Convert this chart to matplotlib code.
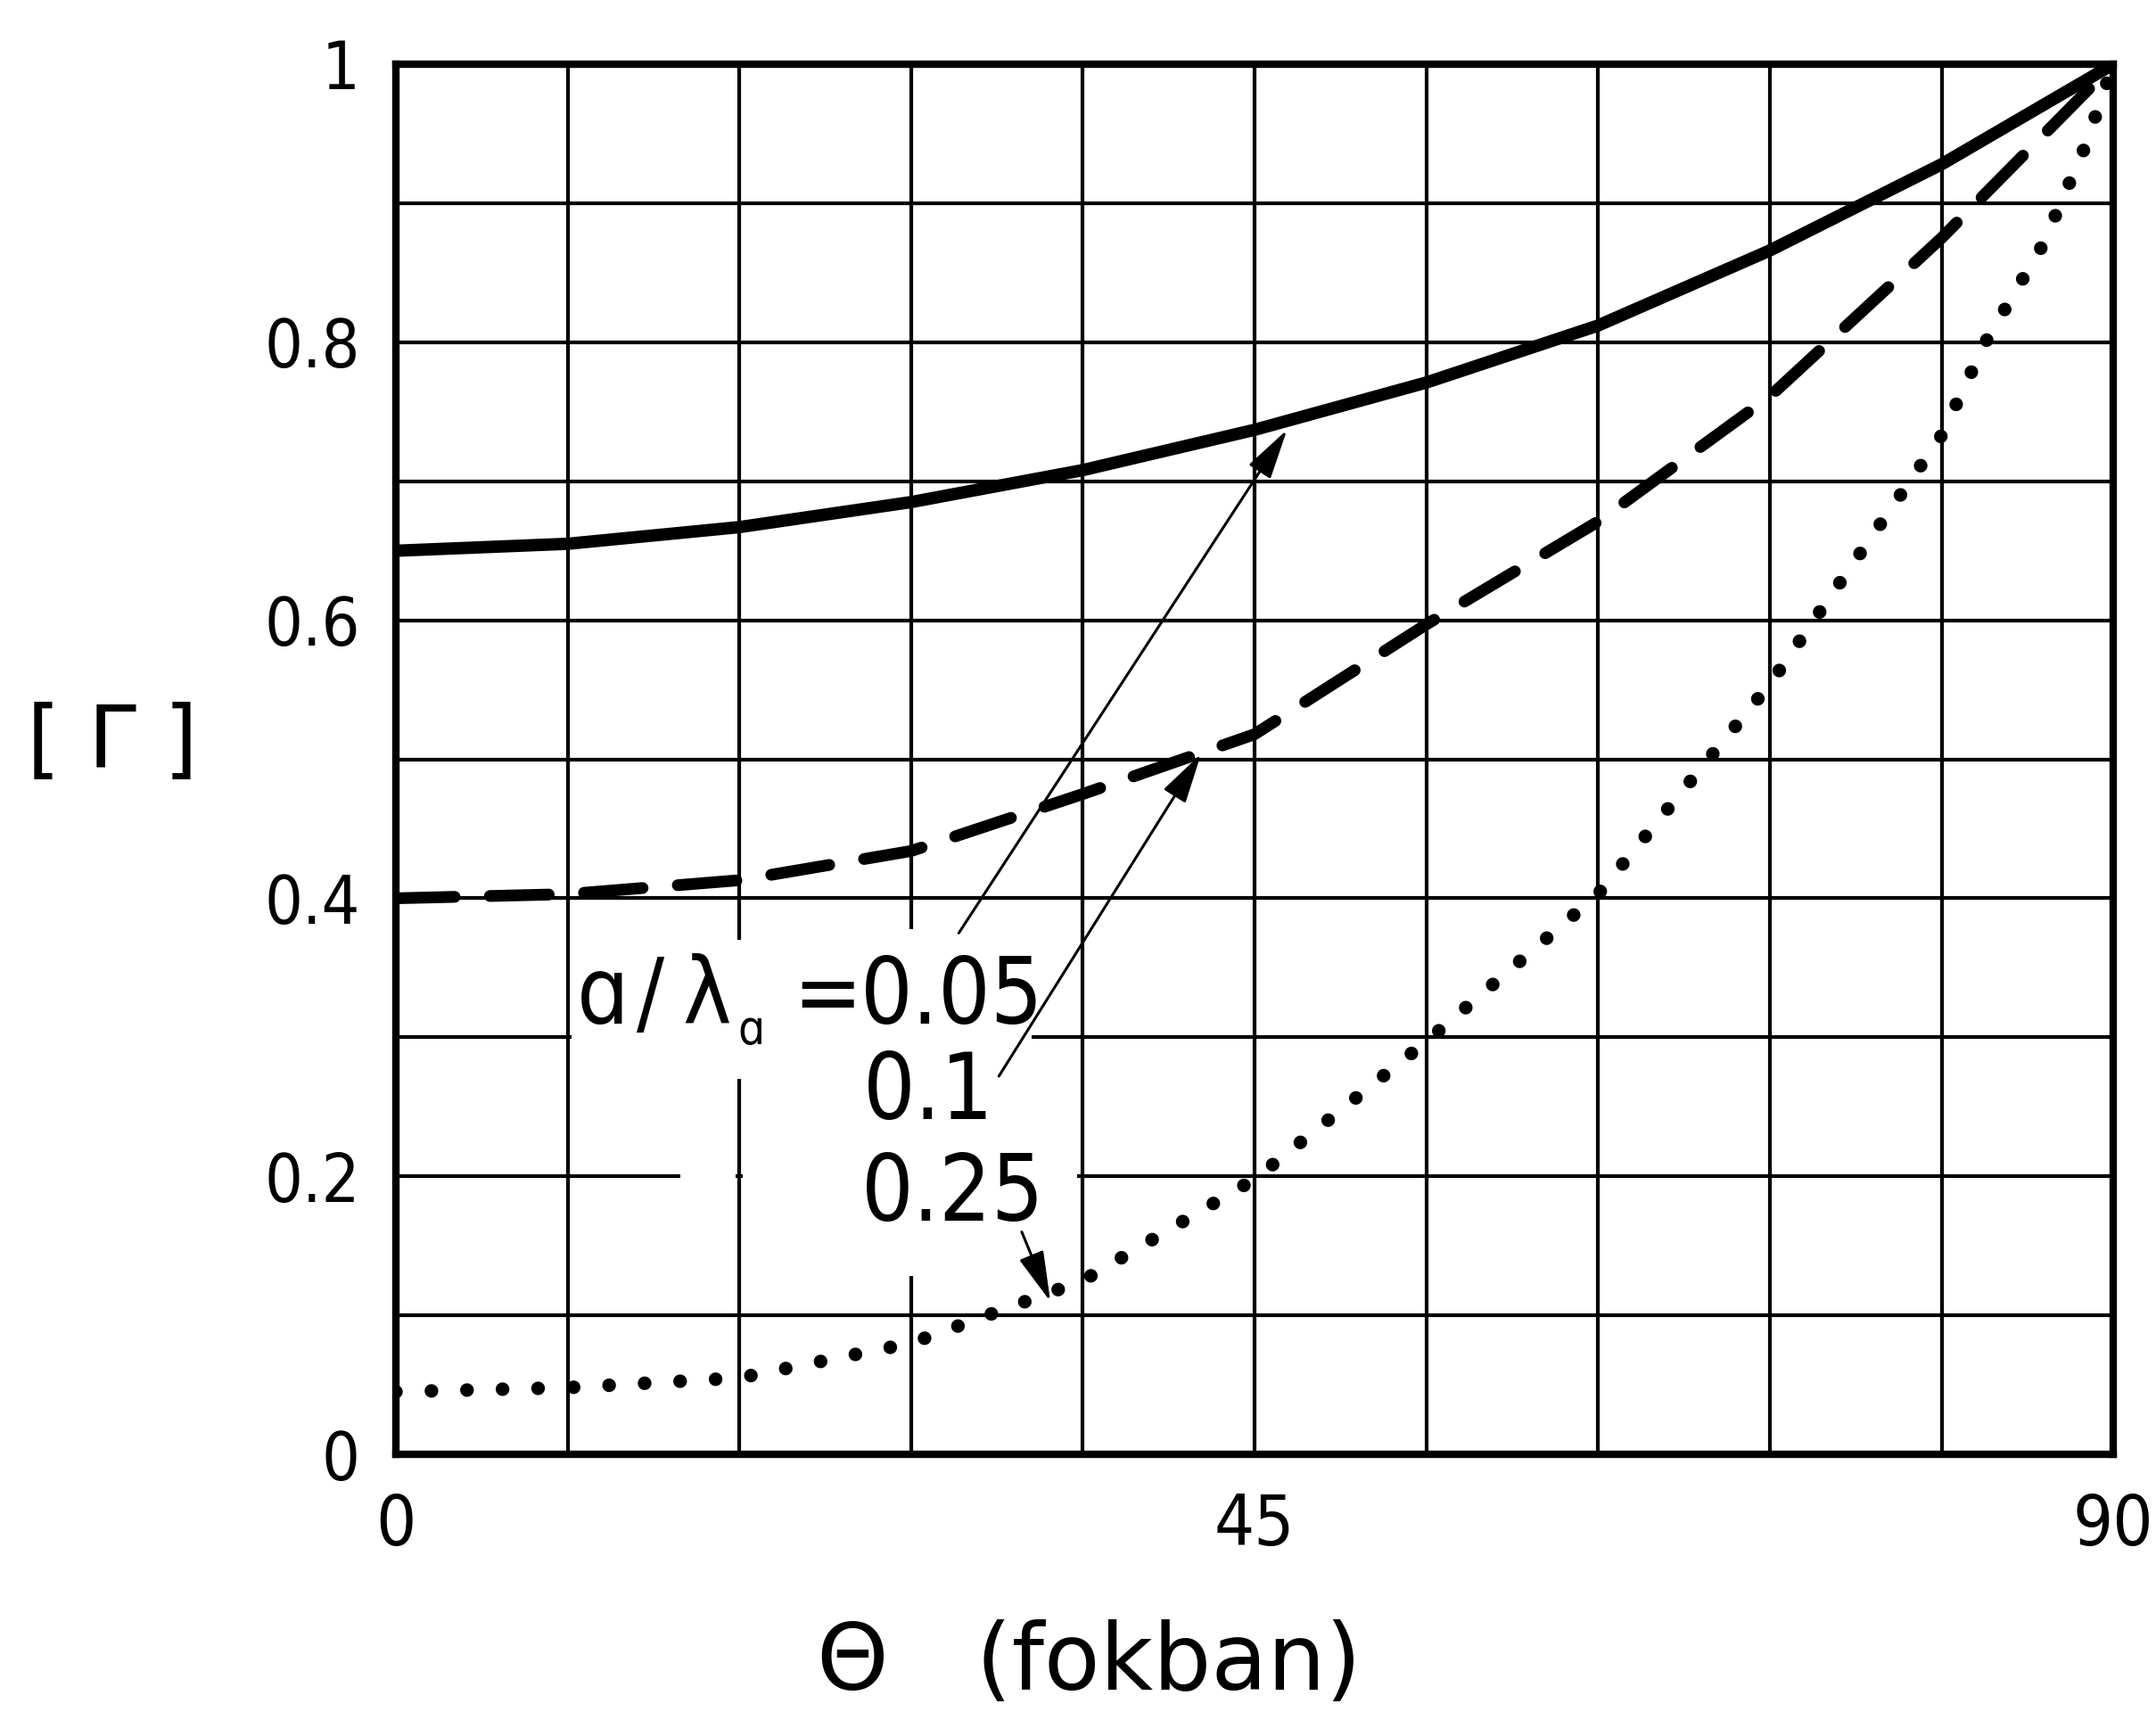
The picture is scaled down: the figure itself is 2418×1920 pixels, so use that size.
import matplotlib
matplotlib.use('Agg')
import matplotlib.pyplot as plt
from matplotlib.patches import Rectangle

# values (theta in degrees, |Gamma|)
theta = [0, 9, 18, 27, 36, 45, 54, 63, 72, 81, 90]
g_005 = [0.650, 0.655, 0.667, 0.685, 0.708, 0.737, 0.771, 0.812, 0.866, 0.928, 1.0]
g_01 = [0.400, 0.403, 0.413, 0.434, 0.475, 0.518, 0.597, 0.671, 0.761, 0.875, 1.0]
theta_025 = [0, 9, 18, 27, 36, 45, 54, 63, 72, 81, 83.3, 86.3, 88.5, 90]
g_025 = [0.045, 0.048, 0.055, 0.080, 0.125, 0.198, 0.297, 0.403, 0.554, 0.733, 0.80, 0.87, 0.94, 1.0]

x_ticks = [0, 9, 18, 27, 36, 45, 54, 63, 72, 81, 90]
x_labels = ['0', '', '', '', '', '45', '', '', '', '', '90']
y_ticks = [0, 0.1, 0.2, 0.3, 0.4, 0.5, 0.6, 0.7, 0.8, 0.9, 1.0]
y_labels = ['0', '', '0.2', '', '0.4', '', '0.6', '', '0.8', '', '1']

plt.rcParams['font.family'] = ['DejaVu Sans']
plt.rcParams['font.stretch'] = 'condensed'

fig = plt.figure(figsize=(24.18, 19.2), dpi=100)
ax = fig.add_axes([0.1836, 0.1505, 0.7966, 0.812])

ax.plot(theta, g_005, color='black', lw=10, solid_capstyle='round', zorder=4)
ax.plot(theta, g_01, color='black', lw=9.5, dashes=(5, 3), dash_capstyle='round', zorder=4)
ax.plot(theta_025, g_025, color='black', lw=11, dashes=(0.01, 2.6), dash_capstyle='round', zorder=4)

ax.set_xlim(0, 90)
ax.set_ylim(0, 1)
ax.set_xticks(x_ticks)
ax.set_xticklabels(x_labels, fontsize=57)
ax.set_yticks(y_ticks)
ax.set_yticklabels(y_labels, fontsize=54)
ax.tick_params(axis='x', length=0, pad=30)
ax.tick_params(axis='y', length=0, pad=29)
ax.set_axisbelow(True)
ax.grid(True, color='black', lw=3)
for s in ax.spines.values():
    s.set_linewidth(6)

# the label block was pasted over the grid: white masks where the grid is broken
masks = [(9.2, 0.27, 24.1, 0.10),     # 0.3 line and upper parts of 18/27 deg lines
         (14.9, 0.19, 2.9, 0.02),     # 0.2 line, left of 18 deg
         (18.2, 0.19, 17.5, 0.02),    # 0.2 line, 18..36 deg
         (26.5, 0.128, 1.0, 0.25)]    # 27 deg line behind the numbers
for (x0, y0, w, h) in masks:
    ax.add_patch(Rectangle((x0, y0), w, h, facecolor='white', edgecolor='none', zorder=2.5))

fs = 74
ax.text(9.5, 0.310, 'ɑ', fontsize=fs, ha='left', va='baseline', zorder=3)
ax.text(12.6, 0.310, '/', fontsize=fs, ha='left', va='baseline', zorder=3)
ax.text(15.0, 0.310, 'λ', fontsize=fs, ha='left', va='baseline', zorder=3)
ax.text(17.9, 0.295, 'ɑ', fontsize=38, ha='left', va='baseline', zorder=3)
ax.text(20.8, 0.310, '=', fontsize=fs, ha='left', va='baseline', zorder=3)
ax.text(24.35, 0.310, '0.05', fontsize=fs, ha='left', va='baseline', zorder=3)
ax.text(24.5, 0.241, '0.1', fontsize=fs, ha='left', va='baseline', zorder=3)
ax.text(24.4, 0.168, '0.25', fontsize=fs, ha='left', va='baseline', zorder=3)

arrow = dict(arrowstyle='-|>,head_length=0.7,head_width=0.18', color='black', lw=2.2,
             mutation_scale=50, shrinkA=0, shrinkB=0)
ax.annotate('', xy=(46.7, 0.737), xytext=(29.5, 0.375), arrowprops=arrow, zorder=5)
ax.annotate('', xy=(42.2, 0.504), xytext=(31.6, 0.272), arrowprops=arrow, zorder=5)
ax.annotate('', xy=(34.3, 0.110), xytext=(32.8, 0.160), arrowprops=arrow, zorder=5)

fig.text(0.052, 0.566, '[ Γ ]', fontsize=70, ha='center', va='center', stretch='normal')
fig.text(0.505, 0.028, 'Θ   (fokban)', fontsize=74, ha='center', va='center', stretch='normal')

fig.savefig('out.png', dpi=100, facecolor='white')
